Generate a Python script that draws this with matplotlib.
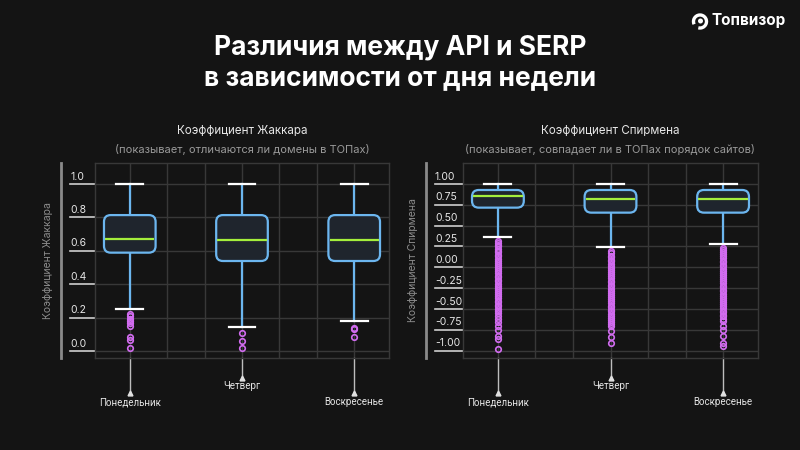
import matplotlib.pyplot as plt
import matplotlib.transforms as mtransforms
from matplotlib.patches import FancyBboxPatch, Circle, Arc

# --- data ---
days = ['Понедельник', 'Четверг', 'Воскресенье']

jac_med = [0.671, 0.667, 0.665]
jac_q1 = [0.589, 0.539, 0.539]
jac_q3 = [0.814, 0.814, 0.814]
jac_lo = [0.253, 0.144, 0.180]
jac_hi = [1.0, 1.0, 1.0]
jac_fliers = [
    [0.22, 0.21, 0.19, 0.177, 0.165, 0.15, 0.082, 0.066, 0.018],
    [0.11, 0.06, 0.016],
    [0.14, 0.13, 0.082],
]

sp_med = [0.852, 0.824, 0.824]
sp_q1 = [0.716, 0.656, 0.656]
sp_q3 = [0.928, 0.928, 0.928]
sp_lo = [0.367, 0.248, 0.276]
sp_hi = [1.0, 1.0, 1.0]
sp_fliers = [
    [0.31, 0.29, 0.27, 0.25, 0.22, 0.20, 0.18, 0.15, 0.13, 0.10, 0.08, 0.05,
     0.03, 0.0, -0.02, -0.05, -0.07, -0.10, -0.12, -0.15, -0.17, -0.20, -0.22,
     -0.25, -0.27, -0.30, -0.32, -0.35, -0.37, -0.40, -0.42, -0.45, -0.47,
     -0.50, -0.52, -0.55, -0.58, -0.62, -0.66, -0.71, -0.75, -0.82, -0.86, -0.98],
    [0.19, 0.17, 0.14, 0.12, 0.09, 0.07, 0.04, 0.02, -0.01, -0.03, -0.06,
     -0.08, -0.11, -0.13, -0.16, -0.18, -0.21, -0.23, -0.26, -0.28, -0.31,
     -0.33, -0.36, -0.38, -0.41, -0.43, -0.46, -0.48, -0.51, -0.53, -0.56,
     -0.58, -0.61, -0.63, -0.66, -0.68, -0.71, -0.77, -0.84, -0.905],
    [0.23, 0.21, 0.18, 0.16, 0.13, 0.11, 0.08, 0.06, 0.03, 0.01, -0.02,
     -0.04, -0.07, -0.09, -0.12, -0.14, -0.17, -0.19, -0.22, -0.24, -0.27,
     -0.29, -0.32, -0.34, -0.37, -0.39, -0.42, -0.44, -0.47, -0.49, -0.52,
     -0.54, -0.57, -0.59, -0.62, -0.65, -0.71, -0.75, -0.82, -0.91, -0.95],
]

jac_ticks = [0.0, 0.2, 0.4, 0.6, 0.8, 1.0]
jac_ticklabels = ['0.0', '0.2', '0.4', '0.6', '0.8', '1.0']
sp_ticks = [-1.0, -0.75, -0.5, -0.25, 0.0, 0.25, 0.5, 0.75, 1.0]
sp_ticklabels = ['-1.00', '-0.75', '-0.50', '-0.25', '0.00', '0.25', '0.50', '0.75', '1.00']

BG = '#141414'
GRID = '#383838'
BOX_EDGE = '#6cb6ef'
BOX_FACE = '#1f252d'
MED = '#a4ee3c'
FLIER = '#d26cf0'

plt.rcParams['font.family'] = ['Inter', 'DejaVu Sans']

fig = plt.figure(figsize=(8, 4.5), dpi=100, facecolor=BG)


def draw_panel(ax, med, q1, q3, lo, hi, fliers, ticks, ticklabels, ylim,
               ylabel, lab_x, bar_x):
    ax.set_facecolor(BG)
    positions = [0, 1, 2]
    stats = []
    for i in range(3):
        stats.append({'med': med[i], 'q1': q1[i], 'q3': q3[i],
                      'whislo': lo[i], 'whishi': hi[i], 'fliers': fliers[i]})
    ax.bxp(stats, positions=positions, widths=0.44, capwidths=0.24,
           showbox=False, showcaps=True,
           whiskerprops=dict(color=BOX_EDGE, lw=1.6),
           capprops=dict(color='white', lw=1.6),
           medianprops=dict(color=MED, lw=1.6, zorder=5),
           flierprops=dict(marker='o', markersize=4, markerfacecolor='none',
                           markeredgecolor=FLIER, markeredgewidth=1.2))
    ax.set_xlim(-0.31, 2.31)
    ax.set_ylim(*ylim)

    # rounded boxes
    fig.canvas.draw()
    p0 = ax.transData.transform((0, 0))
    p1 = ax.transData.transform((1, 1))
    aspect = (p1[0] - p0[0]) / (p1[1] - p0[1])
    w = 0.46
    for i, x in enumerate(positions):
        box = FancyBboxPatch((x - w / 2, q1[i]), w, q3[i] - q1[i],
                             boxstyle='round,pad=0,rounding_size=0.06',
                             mutation_aspect=aspect,
                             fc=BOX_FACE, ec=BOX_EDGE, lw=1.6, zorder=4)
        ax.add_patch(box)

    # grid
    ax.set_yticks(ticks)
    ax.set_yticklabels([])
    ax.set_xticks(positions)
    ax.set_xticklabels([])
    ax.set_xticks([1 / 3, 2 / 3, 4 / 3, 5 / 3], minor=True)
    ax.tick_params(which='both', left=False, bottom=False)
    ax.grid(True, which='both', color=GRID, lw=1, zorder=0)
    ax.set_axisbelow(True)
    for s in ax.spines.values():
        s.set_color(GRID)
        s.set_linewidth(1)

    # tick labels sitting on short lines
    tr = mtransforms.blended_transform_factory(ax.transAxes, ax.transData)
    for t, lab in zip(ticks, ticklabels):
        ax.plot([lab_x, 0], [t, t], color='#cfcfcf', lw=1.2,
                transform=tr, clip_on=False)
        ax.text(lab_x, t + (ylim[1] - ylim[0]) * 0.012, lab, transform=tr,
                ha='left', va='bottom', fontsize=7.5, color='#e6e6e6')

    # side bar and y label
    ax.plot([bar_x, bar_x], [0, 1], color='#8a8a8a', lw=2,
            transform=ax.transAxes, clip_on=False)
    ax.text(bar_x - 0.045, 0.5, ylabel, transform=ax.transAxes, rotation=90,
            ha='center', va='center', fontsize=7.5, color='#8c8c8c')

    # day labels hanging below the axis
    trx = mtransforms.blended_transform_factory(ax.transData, ax.transAxes)
    ends = [-0.18, -0.103, -0.18]
    texts = [-0.226, -0.144, -0.226]
    for i, x in enumerate(positions):
        ax.plot([x, x], [0, ends[i]], color='#bdbdbd', lw=1,
                transform=trx, clip_on=False)
        ax.plot([x], [ends[i]], marker='^', markersize=3.5, color='#e0e0e0',
                transform=trx, clip_on=False)
        ax.text(x, texts[i], days[i], transform=trx, ha='center',
                va='center', fontsize=7, color='#e6e6e6',
                family=['Liberation Sans Narrow', 'Roboto', 'DejaVu Sans'])


ax1 = fig.add_axes([95 / 800, 1 - 358 / 450, 294 / 800, 195 / 450])
draw_panel(ax1, jac_med, jac_q1, jac_q3, jac_lo, jac_hi, jac_fliers,
           jac_ticks, jac_ticklabels, (-0.042, 1.126),
           'Коэффициент Жаккара', -0.085, -0.116)

ax2 = fig.add_axes([463 / 800, 1 - 358 / 450, 295 / 800, 195 / 450])
draw_panel(ax2, sp_med, sp_q1, sp_q3, sp_lo, sp_hi, sp_fliers,
           sp_ticks, sp_ticklabels, (-1.089, 1.252),
           'Коэффициент Спирмена', -0.095, -0.126)

# titles
fig.text(0.5, 1 - 47 / 450, 'Различия между API и SERP', ha='center',
         va='center', fontsize=19, fontweight='bold', color='white')
fig.text(0.5, 1 - 78 / 450, 'в зависимости от дня недели', ha='center',
         va='center', fontsize=19, fontweight='bold', color='white')

fig.text(242 / 800, 1 - 131 / 450, 'Коэффициент Жаккара', ha='center',
         va='center', fontsize=8.4, color='#e6e6e6')
fig.text(242 / 800, 1 - 150 / 450, '(показывает, отличаются ли домены в ТОПах)',
         ha='center', va='center', fontsize=8, color='#9a9a9a')
fig.text(610 / 800, 1 - 131 / 450, 'Коэффициент Спирмена', ha='center',
         va='center', fontsize=8.4, color='#e6e6e6')
fig.text(610 / 800, 1 - 150 / 450, '(показывает, совпадает ли в ТОПах порядок сайтов)',
         ha='center', va='center', fontsize=8, color='#9a9a9a')

# logo (pixel coordinates -> inches)
px = fig.dpi_scale_trans
cx, cy = 700 / 100, (450 - 21.5) / 100
fig.patches.append(Arc((cx, cy), 0.13, 0.13, theta1=255, theta2=205,
                       transform=px, color='white', lw=2.4, figure=fig))
fig.patches.append(Circle((cx + 0.005, cy + 0.005), 0.025, transform=px,
                          fc='white', ec='none', figure=fig))
fig.text(712 / 800, 1 - 21 / 450, 'Топвизор', ha='left', va='center',
         fontsize=11, fontweight='bold', color='white')

fig.savefig('out.png', dpi=100, facecolor=BG)
